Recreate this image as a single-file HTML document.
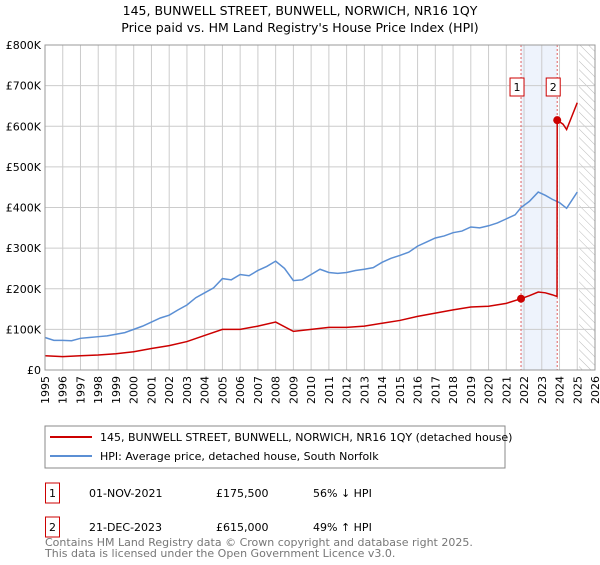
<!DOCTYPE html>
<html><head><meta charset="utf-8"><style>
body{margin:0;background:#fff;font-family:"Liberation Sans","DejaVu Sans",sans-serif;}
svg text{font-family:"DejaVu Sans","Liberation Sans",sans-serif;}
</style></head><body>
<svg id="c" width="600" height="560" viewBox="0 0 600 560">
<defs><pattern id="hatch" width="6" height="6" patternUnits="userSpaceOnUse" patternTransform="rotate(-45)"><line x1="0" y1="0" x2="0" y2="6" stroke="#bbb" stroke-width="1"/></pattern></defs>
<text x="300" y="15" text-anchor="middle" font-size="12.5">145, BUNWELL STREET, BUNWELL, NORWICH, NR16 1QY</text>
<text x="300" y="32" text-anchor="middle" font-size="12.5">Price paid vs. HM Land Registry's House Price Index (HPI)</text>
<g id="grid"></g><g id="marks"></g><g id="axes"></g>
<rect x="45" y="426" width="460" height="42" fill="#fff" stroke="#888"/>
<line x1="50" y1="437" x2="92" y2="437" stroke="#cc0000" stroke-width="2"/>
<text x="100" y="441" font-size="11">145, BUNWELL STREET, BUNWELL, NORWICH, NR16 1QY (detached house)</text>
<line x1="50" y1="456" x2="92" y2="456" stroke="#5b8fd4" stroke-width="2"/>
<text x="100" y="460" font-size="11">HPI: Average price, detached house, South Norfolk</text>
<g>
<rect x="45.5" y="483" width="14" height="20" fill="#fff" stroke="#cc0000"/><text x="52.5" y="497" text-anchor="middle" font-size="11">1</text>
<text x="89" y="497" font-size="11">01-NOV-2021</text><text x="216" y="497" font-size="11">£175,500</text><text x="313" y="497" font-size="11">56% ↓ HPI</text></g>
<g>
<rect x="45.5" y="517" width="14" height="20" fill="#fff" stroke="#cc0000"/><text x="52.5" y="531" text-anchor="middle" font-size="11">2</text>
<text x="89" y="531" font-size="11">21-DEC-2023</text><text x="216" y="531" font-size="11">£615,000</text><text x="313" y="531" font-size="11">49% ↑ HPI</text></g>
<text x="45" y="546" font-size="11" fill="#777">Contains HM Land Registry data © Crown copyright and database right 2025.</text>
<text x="45" y="557" font-size="11" fill="#777">This data is licensed under the Open Government Licence v3.0.</text>
</svg>
<script>
const hpiYears=[1995,1995.5,1996,1996.5,1997,1997.5,1998,1998.5,1999,1999.5,2000,2000.5,2001,2001.5,2002,2002.5,2003,2003.5,2004,2004.5,2005,2005.5,2006,2006.5,2007,2007.5,2008,2008.5,2009,2009.5,2010,2010.5,2011,2011.5,2012,2012.5,2013,2013.5,2014,2014.5,2015,2015.5,2016,2016.5,2017,2017.5,2018,2018.5,2019,2019.5,2020,2020.5,2021,2021.5,2021.83,2022.3,2022.8,2023.2,2023.6,2024.0,2024.4,2025.0];
const hpiValues=[80,73,73,72,78,80,82,84,88,92,100,108,118,128,135,148,160,178,190,202,225,222,235,232,245,255,268,250,220,222,235,248,240,238,240,245,248,252,265,275,282,290,305,315,325,330,338,342,352,350,355,362,372,382,400,415,438,430,420,412,398,438];
const propYears=[1995,1996,1997,1998,1999,2000,2001,2002,2003,2004,2005,2006,2007,2008,2009,2010,2011,2012,2013,2014,2015,2016,2017,2018,2019,2020,2021,2021.83,2022.3,2022.8,2023.2,2023.6,2023.86,2023.87,2024.2,2024.4,2024.7,2025.0];
const propValues=[35,33,35,37,40,45,53,60,70,85,100,100,108,118,95,100,105,105,108,115,122,132,140,148,155,157,164,175.5,183,192,190,185,181,615,605,592,625,658];
const saleYears=[2021.83,2023.87];
const saleValues=[175.5,615];
const saleLabels=["1","2"];
const yTicks=[0,100,200,300,400,500,600,700,800];
const yTickLabels=["£0","£100K","£200K","£300K","£400K","£500K","£600K","£700K","£800K"];
const xTicks=[1995,1996,1997,1998,1999,2000,2001,2002,2003,2004,2005,2006,2007,2008,2009,2010,2011,2012,2013,2014,2015,2016,2017,2018,2019,2020,2021,2022,2023,2024,2025,2026];

const X0=45,X1=595,Y0=370,Y1=45;
const xs=y=>X0+(y-1995)/(2026-1995)*(X1-X0);
const ys=v=>Y0-v/800*(Y0-Y1);
const NS="http://www.w3.org/2000/svg";
function mk(p,tag,a){const e=document.createElementNS(NS,tag);for(const k in a)e.setAttribute(k,a[k]);p.appendChild(e);return e;}
const grid=document.getElementById('grid'),marks=document.getElementById('marks'),axes=document.getElementById('axes');
let sh=mk(grid,'rect',{x:xs(saleYears[0]),y:Y1,width:xs(saleYears[1])-xs(saleYears[0]),height:Y0-Y1,fill:'#eef3fc'});

let ht=mk(grid,'rect',{x:xs(2025.1),y:Y1,width:X1-xs(2025.1),height:Y0-Y1,fill:'url(#hatch)'});

xTicks.forEach(t=>{const l=mk(grid,'line',{x1:xs(t),x2:xs(t),y1:Y1,y2:Y0,stroke:'#ccc'});

const tx=mk(axes,'text',{x:0,y:0,'font-size':11,'text-anchor':'end',transform:`translate(${xs(t)+4},${Y0+6}) rotate(-90)`});tx.textContent=t;
});
yTicks.forEach((t,i)=>{const l=mk(grid,'line',{x1:X0,x2:X1,y1:ys(t),y2:ys(t),stroke:'#ccc'});

const tx=mk(axes,'text',{x:X0-4,y:ys(t)+4,'font-size':11,'text-anchor':'end'});tx.textContent=yTickLabels[i];
});
saleYears.forEach((s,i)=>{const l=mk(grid,'line',{x1:xs(s),x2:xs(s),y1:Y1,y2:Y0,stroke:'#e06060','stroke-dasharray':'2,2'});
});
const hp=mk(marks,'polyline',{points:hpiYears.map((y,i)=>xs(y)+','+ys(hpiValues[i])).join(' '),fill:'none',stroke:'#5b8fd4','stroke-width':1.5});

const pp=mk(marks,'polyline',{points:propYears.map((y,i)=>xs(y)+','+ys(propValues[i])).join(' '),fill:'none',stroke:'#cc0000','stroke-width':1.5});

saleYears.forEach((s,i)=>{const c=mk(marks,'circle',{cx:xs(s),cy:ys(saleValues[i]),r:4,fill:'#cc0000'});

const bx=xs(s)-4;
const r=mk(marks,'rect',{x:bx-7,y:78,width:14,height:18,fill:'#fff',stroke:'#cc0000'});

const t=mk(marks,'text',{x:bx,y:91,'font-size':11,'text-anchor':'middle'});t.textContent=saleLabels[i];
});
const ax=mk(axes,'rect',{x:X0,y:Y1,width:X1-X0,height:Y0-Y1,fill:'none',stroke:'#999'});

</script>
</body></html>
